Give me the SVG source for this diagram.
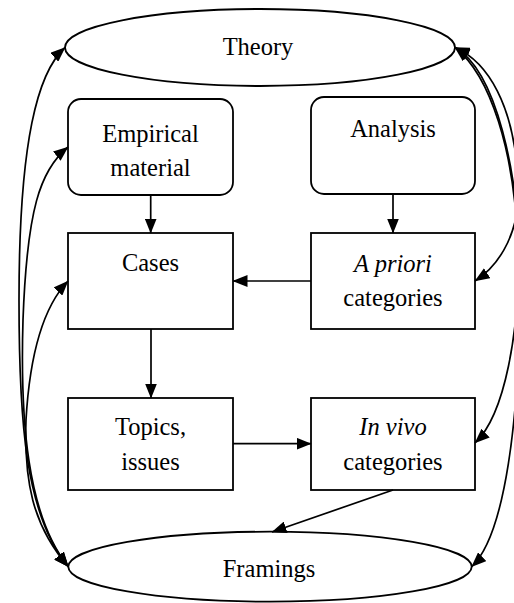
<svg xmlns="http://www.w3.org/2000/svg" width="514" height="603" viewBox="0 0 514 603">
<style>
.n{fill:#fff;stroke:#000;stroke-width:1.8}
.t{font-family:"Liberation Serif","Times New Roman","DejaVu Serif",serif;font-size:24.5px;fill:#000;text-anchor:middle}
.i{font-style:italic}
.e{fill:none;stroke:#000;stroke-width:1.7}
</style>
<defs>
<marker id="ah" viewBox="0 0 15 12" refX="14.5" refY="6" markerWidth="15" markerHeight="12" markerUnits="userSpaceOnUse" orient="auto-start-reverse">
<path d="M0,0 L15,6 L0,12 z" fill="#000"/>
</marker>
</defs>
<rect width="514" height="603" fill="#fff"/>
<g id="theory">
<ellipse class="n" cx="260" cy="47.5" rx="195" ry="38.5"/>
<text class="t" x="258" y="55">Theory</text>
</g>
<g id="framings">
<ellipse class="n" cx="270" cy="566.7" rx="201.7" ry="35"/>
<text class="t" x="269" y="576.5">Framings</text>
</g>
<g id="empirical">
<rect class="n" x="68" y="99" width="165" height="96" rx="13"/>
<text class="t" x="150.5" y="142">Empirical</text>
<text class="t" x="150.5" y="176">material</text>
</g>
<g id="analysis">
<rect class="n" x="311" y="97" width="164" height="97" rx="13"/>
<text class="t" x="393" y="137">Analysis</text>
</g>
<g id="cases">
<rect class="n" x="68" y="233" width="165" height="96"/>
<text class="t" x="150.5" y="271">Cases</text>
</g>
<g id="apriori">
<rect class="n" x="311" y="233" width="164" height="96"/>
<text class="t" x="393" y="272"><tspan class="i">A priori</tspan></text>
<text class="t" x="393" y="306">categories</text>
</g>
<g id="topics">
<rect class="n" x="68" y="398" width="165" height="92"/>
<text class="t" x="150.5" y="435">Topics,</text>
<text class="t" x="150.5" y="470">issues</text>
</g>
<g id="invivo">
<rect class="n" x="311" y="398" width="164" height="92"/>
<text class="t" x="393" y="435"><tspan class="i">In vivo</tspan></text>
<text class="t" x="393" y="470">categories</text>
</g>
<g id="connectors">
<path class="e" d="M150.7,195 L150.7,233" marker-end="url(#ah)"/>
<path class="e" d="M393,194 L393,233" marker-end="url(#ah)"/>
<path class="e" d="M311,281 L233,281" marker-end="url(#ah)"/>
<path class="e" d="M151,329 L151,398" marker-end="url(#ah)"/>
<path class="e" d="M233,443.7 L311,443.7" marker-end="url(#ah)"/>
<path class="e" d="M393,490 L272,532" marker-end="url(#ah)"/>
<path class="e" d="M65,47.5 C38,72 19,140 19,300 C19,420 25,515 68.3,566.7" marker-start="url(#ah)" marker-end="url(#ah)"/>
<path class="e" d="M68,147 C40,170 27,210 23,320 C20,420 27,515 68.3,566.7" marker-start="url(#ah)" marker-end="url(#ah)"/>
<path class="e" d="M68,281 C45,305 30,350 26,420 C24,480 32,525 68.3,566.7" marker-start="url(#ah)" marker-end="url(#ah)"/>
<path class="e" d="M455,47.5 C488,62 514,105 518,180 C522,230 500,265 475,281" marker-start="url(#ah)" marker-end="url(#ah)"/>
<path class="e" d="M455,47.5 C490,75 515,150 518,250 C520,330 505,415 475,443" marker-start="url(#ah)" marker-end="url(#ah)"/>
<path class="e" d="M455,47.5 C495,70 520,170 520,280 C520,420 505,535 471.7,566.7" marker-start="url(#ah)" marker-end="url(#ah)"/>
</g>
</svg>
